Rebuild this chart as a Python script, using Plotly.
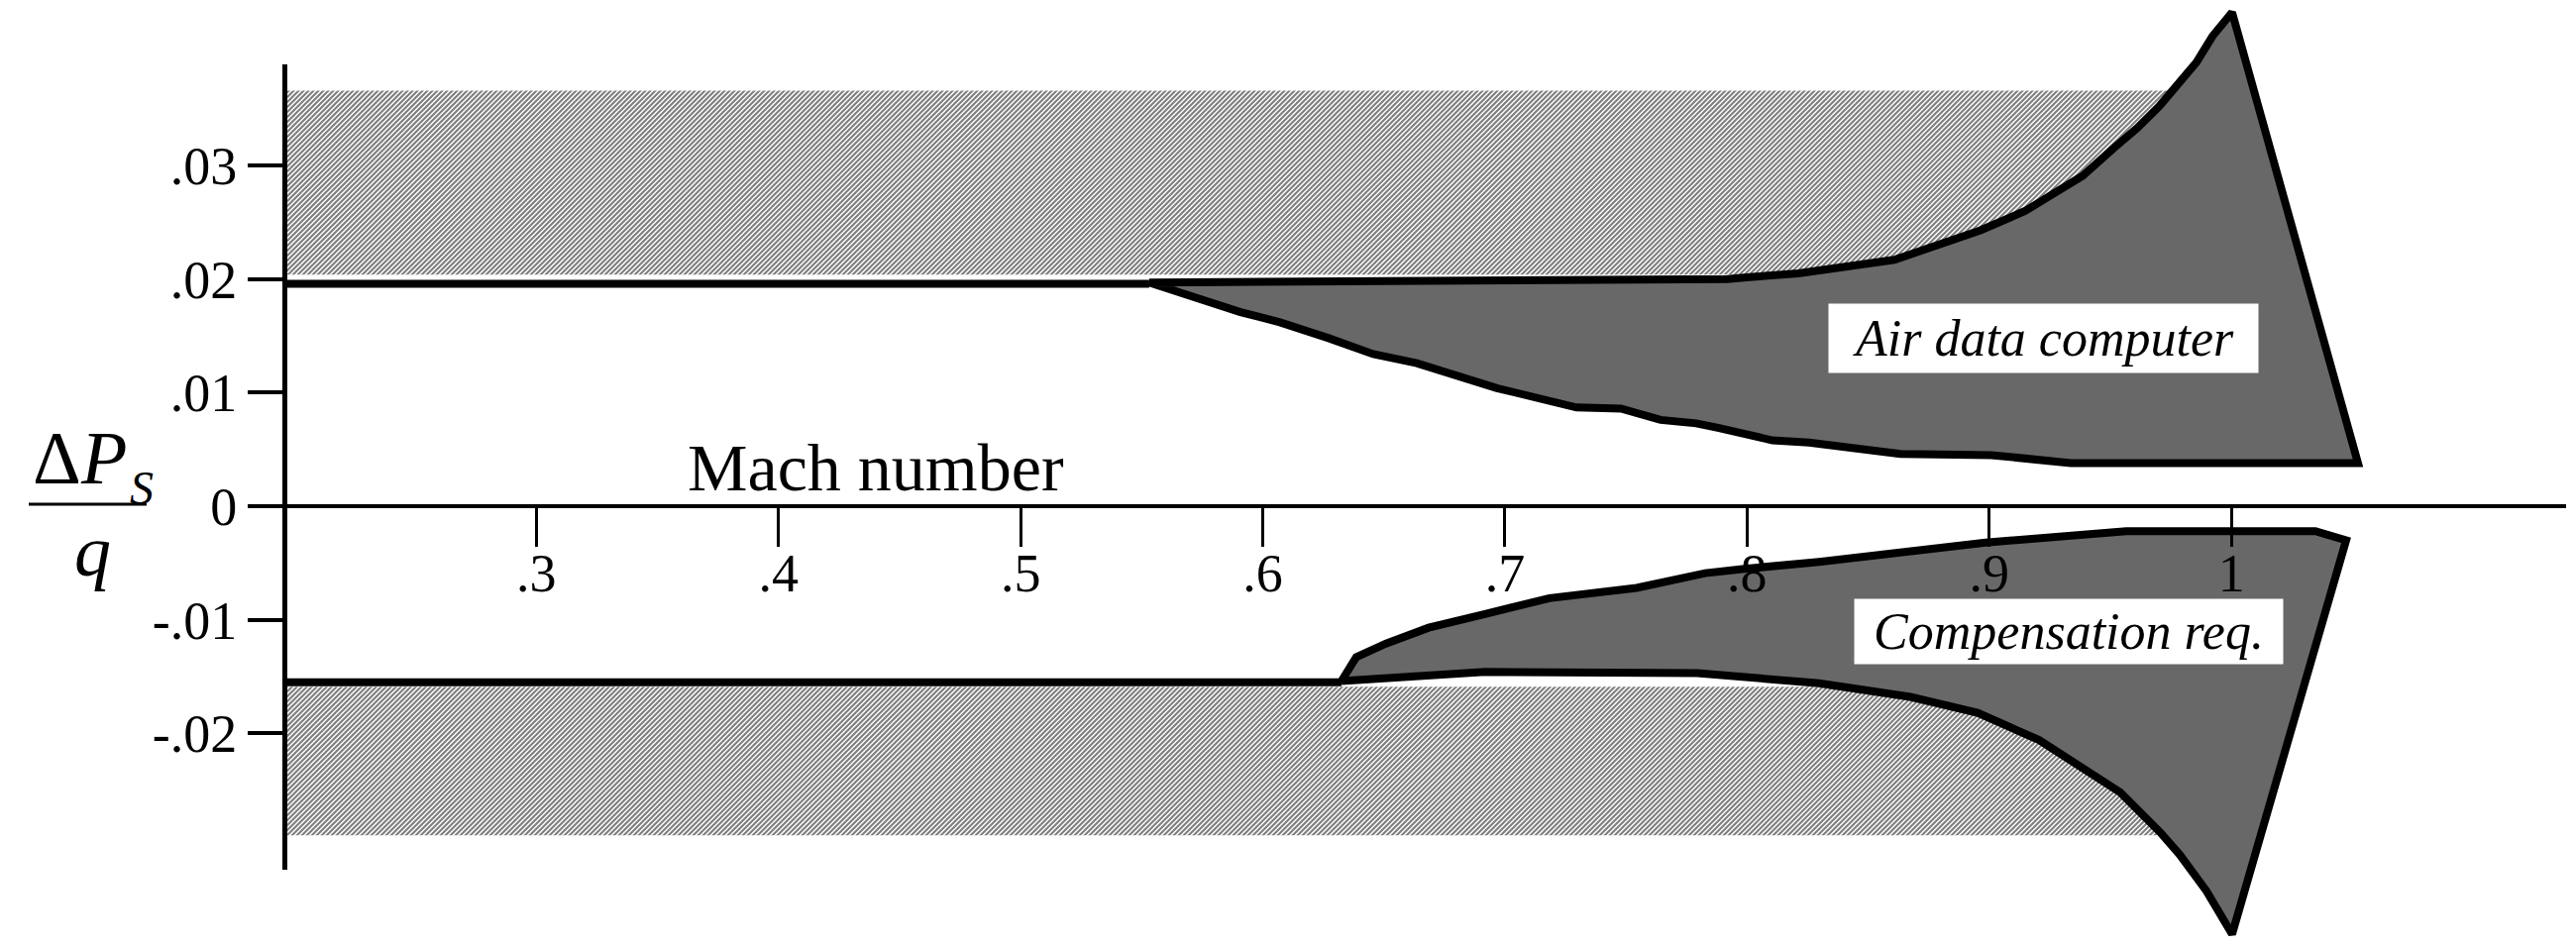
import plotly.graph_objects as go

# ---------------- data (Mach number, dPs/q) ----------------
ADC_MACH = [0.5531, 0.7917, 0.8023, 0.8211, 0.8608, 0.8964, 0.9148, 0.9386, 0.9512, 0.9611,
            0.9705, 0.9774, 0.9856, 0.9922, 1.0003, 1.0523, 0.9337, 0.9009, 0.8633, 0.8256,
            0.8105, 0.7880, 0.7790, 0.7643, 0.7479, 0.7295, 0.6967, 0.6636, 0.6456, 0.6272,
            0.6071, 0.5908, 0.5576, 0.5531]
ADC_DPQ = [0.0197, 0.0200, 0.0202, 0.0205, 0.0217, 0.0243, 0.0260, 0.0291, 0.0315, 0.0333,
           0.0353, 0.0370, 0.0391, 0.0414, 0.0435, 0.0038, 0.0038, 0.0045, 0.0046, 0.0056,
           0.0058, 0.0069, 0.0073, 0.0076, 0.0086, 0.0087, 0.0104, 0.0126, 0.0134, 0.0148,
           0.0162, 0.0171, 0.0195, 0.0197]

CR_MACH = [0.6325, 0.6386, 0.6509, 0.6685, 0.6918, 0.7184, 0.7544, 0.7827, 0.7999, 0.8297,
           0.8985, 0.9566, 1.0347, 1.0474, 1.0003, 0.9897, 0.9787, 0.9705, 0.9541, 0.9377,
           0.9206, 0.8952, 0.8674, 0.8297, 0.7794, 0.6918, 0.6669, 0.6325]
CR_DPQ = [-0.0154, -0.0133, -0.0121, -0.0107, -0.0095, -0.0081, -0.0072, -0.0059, -0.0055, -0.0049,
          -0.0032, -0.0022, -0.0022, -0.0030, -0.0377, -0.0339, -0.0307, -0.0287, -0.0252, -0.0229,
          -0.0206, -0.0182, -0.0168, -0.0156, -0.0147, -0.0146, -0.0150, -0.0154]

UPPER_HATCH_MACH = [0.197, 0.9758, 0.9705, 0.9611, 0.9512, 0.9386, 0.9148, 0.8964, 0.8608,
                    0.8211, 0.8023, 0.197]
UPPER_HATCH_DPQ = [0.0366, 0.0366, 0.0353, 0.0333, 0.0315, 0.0291, 0.0260, 0.0243, 0.0217,
                   0.0205, 0.0204, 0.0204]

LOWER_HATCH_MACH = [0.197, 0.8297, 0.8674, 0.8952, 0.9206, 0.9377, 0.9541, 0.9705, 0.9717, 0.197]
LOWER_HATCH_DPQ = [-0.0159, -0.0159, -0.0168, -0.0182, -0.0206, -0.0229, -0.0252, -0.0287,
                   -0.0290, -0.0290]

ADC_BASE_MACH = [0.197, 0.5531]
ADC_BASE_DPQ = [0.0196, 0.0196]
CR_BASE_MACH = [0.197, 0.6325]
CR_BASE_DPQ = [-0.0155, -0.0155]

X_TICKS = [0.3, 0.4, 0.5, 0.6, 0.7, 0.8, 0.9, 1.0]
X_TICK_TEXT = [".3", ".4", ".5", ".6", ".7", ".8", ".9", "1"]
Y_TICKS = [0.03, 0.02, 0.01, 0.0, -0.01, -0.02]
Y_TICK_TEXT = [".03", ".02", ".01", "0", "-.01", "-.02"]

# ---------------- layout constants ----------------
FONT = "Liberation Serif"
X_RANGE = [0.19716, 1.13824]
Y_RANGE = [-0.038394, 0.043892]
AX_TOP, AX_BOT = 0.0389, -0.0320
span = Y_RANGE[1] - Y_RANGE[0]
y2_domain = [(AX_BOT - Y_RANGE[0]) / span, (AX_TOP - Y_RANGE[0]) / span]
x_pos = (0 - Y_RANGE[0]) / span

GRAY = "#686868"
HATCH = dict(shape="/", size=3.5355, solidity=0.6, fgcolor="black", bgcolor="white")

fig = go.Figure()

fig.add_trace(go.Scatter(x=UPPER_HATCH_MACH, y=UPPER_HATCH_DPQ, mode="lines", fill="toself",
                         fillcolor="white", fillpattern=HATCH, line=dict(width=0),
                         hoverinfo="skip", showlegend=False))
fig.add_trace(go.Scatter(x=LOWER_HATCH_MACH, y=LOWER_HATCH_DPQ, mode="lines", fill="toself",
                         fillcolor="white", fillpattern=HATCH, line=dict(width=0),
                         hoverinfo="skip", showlegend=False))
fig.add_trace(go.Scatter(x=ADC_BASE_MACH, y=ADC_BASE_DPQ, mode="lines",
                         line=dict(color="black", width=8), hoverinfo="skip", showlegend=False))
fig.add_trace(go.Scatter(x=CR_BASE_MACH, y=CR_BASE_DPQ, mode="lines",
                         line=dict(color="black", width=8), hoverinfo="skip", showlegend=False))
fig.add_trace(go.Scatter(x=ADC_MACH, y=ADC_DPQ, mode="lines", fill="toself", fillcolor=GRAY,
                         line=dict(color="black", width=8), hoverinfo="skip", showlegend=False))
fig.add_trace(go.Scatter(x=CR_MACH, y=CR_DPQ, mode="lines", fill="toself", fillcolor=GRAY,
                         line=dict(color="black", width=8), hoverinfo="skip", showlegend=False))
# carrier for the left axis
fig.add_trace(go.Scatter(x=[0.5], y=[0], yaxis="y2", mode="markers",
                         marker=dict(opacity=0), hoverinfo="skip", showlegend=False))

tickfont = dict(family=FONT, size=54, color="black")

fig.update_layout(
    width=2592, height=948,
    margin=dict(l=282, r=10, t=0, b=5),
    paper_bgcolor="white", plot_bgcolor="rgba(0,0,0,0)",
    xaxis=dict(range=X_RANGE, anchor="free", position=x_pos, side="bottom",
               showgrid=False, zeroline=False, showline=False,
               ticks="outside", ticklen=40, tickwidth=3, tickcolor="black",
               ticklabelstandoff=-20,
               tickvals=X_TICKS, ticktext=X_TICK_TEXT, tickfont=tickfont),
    yaxis=dict(range=Y_RANGE, showgrid=False, showline=False, showticklabels=False,
               ticks="", zeroline=True, zerolinecolor="black", zerolinewidth=4),
    yaxis2=dict(domain=y2_domain, range=[AX_BOT, AX_TOP], anchor="x", side="left",
                showgrid=False, zeroline=False, showline=True, linecolor="black", linewidth=5,
                ticks="outside", ticklen=35, tickwidth=4, tickcolor="black",
                tickvals=Y_TICKS, ticktext=Y_TICK_TEXT, tickfont=tickfont),
    showlegend=False,
)

def px_x(p):
    return (p - 290) / 2300

def px_y(p):
    return (951 - p) / 943

annos = [
    dict(text="Mach number", x=px_x(884), y=px_y(472), size=68),
    dict(text="Δ<i>P</i>", x=px_x(80), y=px_y(462), size=76),
    dict(text="<i>S</i>", x=px_x(143), y=px_y(492), size=48),
    dict(text="<i>q</i>", x=px_x(93), y=px_y(556), size=74),
]
for a in annos:
    fig.add_annotation(xref="paper", yref="paper", showarrow=False, xanchor="center",
                       yanchor="middle", text=a["text"], x=a["x"], y=a["y"],
                       font=dict(family=FONT, color="black", size=a["size"]))

fig.add_shape(type="line", xref="paper", yref="paper", x0=px_x(29), x1=px_x(148),
              y0=px_y(509), y1=px_y(509), line=dict(color="black", width=3))

fig.add_annotation(x=0.9222, y=0.01479, xref="x", yref="y", showarrow=False,
                   text="<i>Air data computer</i>", width=433, height=69, align="center",
                   bgcolor="white", borderpad=0,
                   font=dict(family=FONT, size=52, color="black"))
fig.add_annotation(x=0.9328, y=-0.0110, xref="x", yref="y", showarrow=False,
                   text="<i>Compensation req.</i>", width=432, height=65, align="center",
                   bgcolor="white", borderpad=0,
                   font=dict(family=FONT, size=52, color="black"))

fig.write_html("out.html")
